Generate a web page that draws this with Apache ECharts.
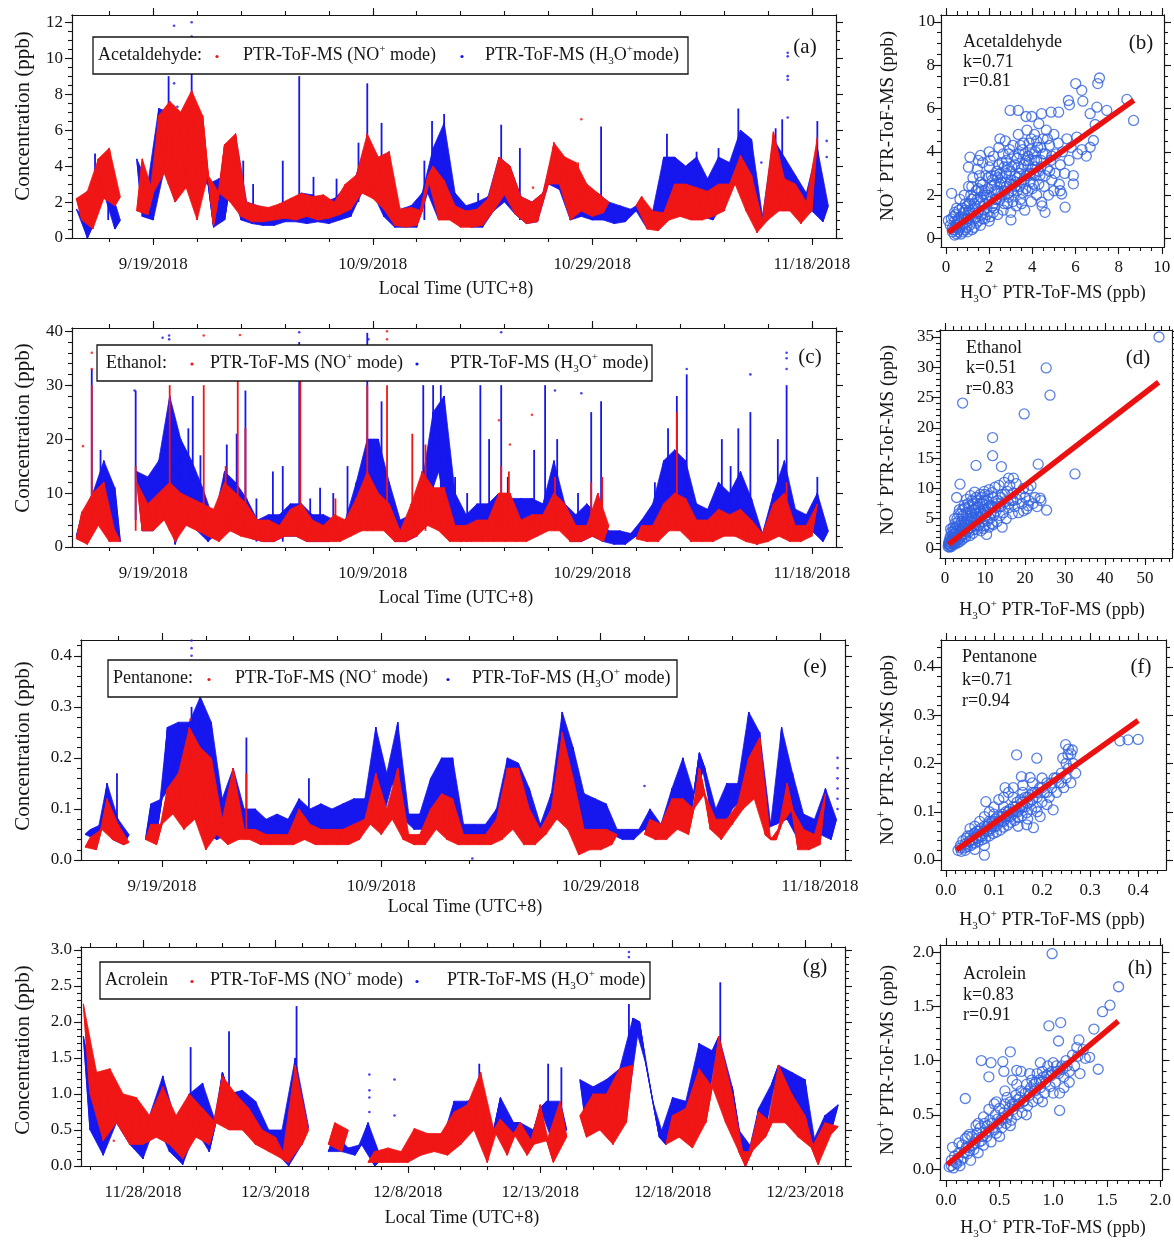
<!DOCTYPE html>
<html>
<head>
<meta charset="utf-8">
<title>Acetaldehyde, ethanol, pentanone and acrolein: NO+ vs H3O+ mode</title>
<script src="https://cdn.jsdelivr.net/npm/echarts@6.0.0/dist/echarts.min.js"></script>
<style>
html, body { margin: 0; padding: 0; background: #ffffff; }
#chart { width: 1174px; height: 1240px; }
</style>
</head>
<body>
<div id="chart"></div>
<script>
// ---------- time sampling (days relative to the first labelled date) ----------
const autumnStartDay = -7.0;   // 9/12/2018 00:00, counted from 9/19/2018
const autumnStepDay = 0.5;     // one value every 12 h
const winterStartDay = -2.25;  // 11/25/2018 18:00, counted from 11/28/2018
const winterStepDay = 0.25;    // one value every 6 h

const autumnTickDays = [0, 20, 40, 60];
const autumnTickLabels = ['9/19/2018', '10/9/2018', '10/29/2018', '11/18/2018'];
const winterTickDays = [0, 5, 10, 15, 20, 25];
const winterTickLabels = ['11/28/2018', '12/3/2018', '12/8/2018', '12/13/2018', '12/18/2018', '12/23/2018'];

const acetYTicks = [0, 2, 4, 6, 8, 10, 12];
const ethYTicks = [0, 10, 20, 30, 40];
const pentYTicks = [0, 0.1, 0.2, 0.3, 0.4];
const acroYTicks = [0, 0.5, 1.0, 1.5, 2.0, 2.5, 3.0];
const acetPairTicks = [0, 2, 4, 6, 8, 10];
const ethPairXTicks = [0, 10, 20, 30, 40, 50];
const ethPairYTicks = [0, 5, 10, 15, 20, 25, 30, 35];
const pentPairTicks = [0, 0.1, 0.2, 0.3, 0.4];
const acroPairTicks = [0, 0.5, 1.0, 1.5, 2.0];

// Each compound: the dense 12-h (or 6-h) record, short bursts as
// [day, from ppb, to ppb], and isolated readings as [day, ppb].

// ---------- acetaldehyde ----------
const acetNO = [
  2.2, 1.0, 2.6, 0.5, 4.4, 2.2, 5.0, 1.8, 2.3, null,
  null, 1.5, 4.4, 1.3, 2.5, 6.8, 3.6, 7.6, 2.0, 7.0,
  2.8, 8.2, 1.0, 6.8, 3.5, 0.7, 2.5, 5.2, 2.0, 5.8,
  1.2, 2.0, 0.9, 1.8, 0.9, 1.7, 1.0, 1.9, 1.1, 2.2,
  1.0, 2.5, 1.2, 2.3, 1.0, 2.4, 1.1, 2.0, 1.3, 3.0,
  1.6, 3.5, 2.5, 5.8, 2.2, 4.5, 1.6, 4.8, 0.7, 1.6,
  0.6, 1.7, 0.7, 1.5, 3.4, 4.0, 1.0, 3.2, 1.0, 1.8,
  0.6, 1.5, 0.6, 1.6, 0.7, 2.2, 1.5, 4.5, 2.4, 4.0,
  1.3, 2.3, 0.8, 2.0, 0.9, 2.5, 3.0, 5.3, 3.0, 4.5,
  1.0, 4.2, 1.5, 3.0, 1.2, 2.5, 1.4, 2.0, null, null,
  null, null, 1.8, 2.3, 0.5, 1.5, 0.4, 1.4, 1.0, 3.0,
  1.2, 3.0, 1.0, 2.8, 1.0, 2.6, 1.2, 3.0, 1.5, 3.0,
  3.0, 4.6, 1.5, 3.5, 0.3, 1.0, 1.0, 5.9, 1.5, 3.3,
  1.5, 3.0, 0.8, 2.0, 1.5, 5.6, null, null
];
const acetH3O = [
  1.6, 1.2, 0.0, 0.7, 3.5, 2.5, 3.0, 0.5, 1.0, null,
  null, 4.4, 1.2, 3.0, 1.0, 7.2, 3.8, 7.0, 2.0, 5.0,
  3.0, 8.0, 3.0, 6.3, 3.0, 0.6, 3.3, 1.0, 3.0, 5.7,
  1.0, 2.0, 0.8, 1.8, 0.7, 1.6, 0.7, 1.8, 0.9, 2.0,
  0.9, 2.5, 0.8, 2.4, 0.9, 2.0, 0.8, 2.2, 1.0, 2.8,
  1.2, 3.5, 2.5, 5.5, 2.5, 4.5, 1.2, 2.5, 0.6, 1.6,
  0.6, 1.8, 0.6, 2.5, 2.5, 5.0, 1.0, 6.4, 1.2, 2.5,
  0.8, 1.8, 0.6, 2.0, 0.6, 2.3, 1.5, 4.5, 2.0, 4.0,
  1.3, 2.3, 0.8, 2.0, 0.9, 2.5, 3.0, 5.0, 2.7, 4.0,
  1.0, 2.5, 1.2, 2.5, 1.0, 2.5, 1.0, 2.0, 0.8, 1.8,
  0.9, 1.6, 1.5, 2.0, 0.5, 1.5, 0.5, 4.5, 2.0, 4.5,
  1.5, 4.0, 1.5, 4.5, 1.2, 3.3, 1.0, 4.5, 2.0, 4.2,
  3.0, 6.0, 2.5, 5.5, 0.5, 1.2, 1.5, 5.5, 2.0, 4.5,
  2.0, 3.5, 1.0, 2.5, 1.5, 5.0, 0.9, 1.8
];
const acetBurstsNO = [[38.7, 2.0, 4.2], [-5.0, 2.5, 4.4]];
const acetBurstsH3O = [
  [-5.3, 2.5, 4.7], [-4.1, 1.0, 4.7], [1.4, 3.0, 9.0], [3.5, 4.0, 9.5], [8.2, 1.0, 4.3], [9.1, 1.0, 3.0],
  [11.8, 1.0, 4.3], [13.3, 1.0, 9.0], [14.6, 1.0, 3.4], [16.7, 1.0, 3.3], [18.7, 2.0, 5.3], [19.5, 3.0, 8.6],
  [20.8, 2.0, 6.4], [24.7, 1.0, 4.3], [25.4, 3.0, 6.5], [26.5, 3.0, 6.9], [29.6, 1.0, 2.5], [31.7, 2.0, 6.3],
  [33.4, 1.0, 5.0], [40.8, 1.0, 6.2], [46.8, 2.0, 5.8], [49.5, 2.0, 4.8], [51.5, 2.0, 5.0], [53.3, 3.0, 7.2],
  [56.7, 2.0, 6.1], [57.3, 2.0, 6.6], [60.5, 2.0, 6.5]
];
const acetSpotsNO = [[39.0, 6.6], [34.6, 2.8]];
const acetSpotsH3O = [
  [1.9, 11.8], [3.5, 12.0], [3.5, 11.2], [3.5, 10.5], [1.9, 8.6], [1.9, 7.3], [2.2, 7.3], [1.9, 6.3],
  [57.8, 10.3], [57.8, 10.1], [57.8, 9.0], [57.8, 8.8], [57.8, 6.7], [-4.1, 4.8],
  [61.35, 5.4], [61.35, 4.5], [55.4, 4.2], [54.3, 5.3]
];

// ---------- ethanol ----------
const ethNO = [
  1.5, 6.5, 0.5, 10, 4, 12, 1.0, 3.0, 1.0, null,
  null, 12, 3, 8, 3, 10, 5, 12, 1, 10,
  4, 9, 3, 8, 2, 7, 1, 12, 3, 10,
  2, 8, 1.5, 5, 1, 5, 1, 4, 2, 7,
  2, 8, 1, 5, 1, 4, 1, 6, 1, 5,
  2, 9, 3, 14, 3, 10, 3, 8, 1, 3,
  1, 8, 2, 14, 4, 11, 3, 11, 1, 4,
  1, 4, 1, 5, 1, 5, 1, 10, 1, 10,
  1, 5, 1, 6, 2, 6, 3, 10, 3, 8,
  1, 4, 1, 4, 2, 10, 1, 4, null, null,
  null, null, 1.5, 4, 1, 4, 1, 8, 3, 10,
  3, 9, 1, 5, 1, 5, 1, 7, 2, 6,
  2, 7, 1, 5, 0.5, 2.5, 1, 8, 2, 10,
  1, 4, 1, 4, 2, 8, null, null
];
const ethH3O = [
  2, 6, 2, 10, 5, 16, 2, 11, 1, null,
  null, 14, 3, 13, 3, 16, 10, 28, 0.5, 20,
  6, 16, 3, 11, 1, 5, 3, 14, 3, 12,
  3, 9, 1.5, 5, 1, 6, 1, 6, 2, 8,
  2, 8, 1, 6, 1, 6, 1, 5, 2, 5,
  3, 12, 5, 20, 5, 20, 6, 12, 1, 5,
  1, 6, 2, 12, 8, 25, 14, 28, 3, 10,
  1, 6, 2, 8, 2, 8, 2, 10, 2, 9,
  3, 9, 3, 9, 3, 8, 5, 16, 5, 8,
  1, 6, 1, 8, 2, 6, 1, 3, 0.5, 3,
  0.5, 2.5, 2, 5, 2, 8, 3, 16, 5, 18,
  5, 16, 2, 8, 2, 7, 2, 12, 3, 10,
  5, 14, 3, 9, 0.5, 2.5, 3, 10, 5, 16,
  2, 7, 2, 6, 3, 10, 1, 3
];
const ethBurstsNO = [
  [-5.6, 4, 30], [-1.6, 3, 15], [1.5, 3, 30], [4.6, 3, 30], [6.6, 3, 15], [7.7, 3, 32], [8.4, 2, 22],
  [13.4, 2, 32], [16.6, 1, 9], [19.5, 3, 30], [21.3, 3, 30], [23.6, 2, 21], [24.8, 3, 19], [31.7, 2, 15],
  [32.4, 2, 14], [36.6, 3, 13], [39.9, 2, 12], [40.9, 1, 13], [47.7, 3, 25], [57.7, 3, 12]
];
const ethBurstsH3O = [
  [-5.6, 5, 33], [-4.8, 5, 18], [-1.6, 5, 29], [3.2, 5, 22], [3.6, 5, 28], [4.3, 3, 17], [6.7, 3, 19],
  [7.6, 3, 21], [8.4, 3, 29], [9.4, 1, 9], [10.9, 1, 14], [11.8, 1, 15], [13.3, 2, 38], [14.3, 1, 9],
  [15.2, 1, 11], [16.4, 1, 10], [17.7, 2, 15], [19.5, 5, 39.7], [20.8, 5, 27], [24.6, 5, 30], [25.5, 10, 30],
  [26.2, 10, 30], [27.5, 2, 13], [28.6, 1, 10], [29.8, 2, 30], [30.6, 2, 20], [31.7, 2, 30], [32.3, 2, 13],
  [34.7, 3, 18], [35.7, 3, 30], [36.8, 5, 20], [38.7, 1, 10], [39.9, 2, 25], [40.8, 2, 27], [45.7, 2, 12],
  [46.9, 3, 22], [47.7, 5, 28], [48.6, 5, 32], [51.8, 3, 20], [52.6, 3, 15], [53.3, 5, 22], [54.4, 3, 25],
  [56.9, 3, 20], [57.7, 5, 30], [60.5, 3, 13]
];
const ethSpotsNO = [
  [-6.4, 18.7], [-5.6, 33], [-5.6, 36], [4.6, 39.2], [7.9, 39.3], [21.3, 38.5], [21.3, 40],
  [31.5, 23.5], [32.5, 19], [34.5, 24.5]
];
const ethSpotsH3O = [
  [0.85, 38.8], [1.45, 39.2], [1.45, 38.5], [13.3, 39.8], [19.6, 38.5], [31.7, 39.8], [57.7, 33],
  [57.7, 35], [57.7, 36], [54.4, 32], [48.6, 33], [36.6, 29], [39.0, 28.5], [-1.7, 29]
];

// ---------- pentanone ----------
const pentNO = [
  0.025, 0.045, 0.02, 0.06, 0.12, 0.04, 0.07, 0.03, 0.035, null,
  null, 0.04, 0.07, 0.03, 0.07, 0.14, 0.09, 0.17, 0.06, 0.26,
  0.08, 0.22, 0.02, 0.2, 0.05, 0.08, 0.03, 0.18, 0.04, 0.06,
  0.04, 0.06, 0.03, 0.05, 0.03, 0.05, 0.03, 0.05, 0.03, 0.1,
  0.04, 0.07, 0.03, 0.06, 0.03, 0.06, 0.03, 0.06, 0.03, 0.07,
  0.04, 0.08, 0.07, 0.17, 0.05, 0.1, 0.08, 0.18, 0.04, 0.05,
  0.03, 0.05, 0.03, 0.1, 0.06, 0.13, 0.04, 0.12, 0.03, 0.05,
  0.03, 0.05, 0.03, 0.05, 0.03, 0.08, 0.04, 0.18, 0.06, 0.18,
  0.03, 0.1, 0.03, 0.06, 0.05, 0.1, 0.08, 0.25, 0.06, 0.16,
  0.01, 0.06, 0.02, 0.06, 0.02, 0.06, 0.03, 0.05, null, null,
  null, null, 0.05, 0.08, 0.04, 0.07, 0.04, 0.12, 0.06, 0.12,
  0.05, 0.1, 0.18, 0.13, 0.06, 0.08, 0.04, 0.08, 0.07, 0.11,
  0.1, 0.2, 0.12, 0.24, 0.05, 0.04, 0.04, 0.07, 0.15, 0.1,
  0.02, 0.06, 0.02, 0.05, 0.03, 0.13, null, null
];
const pentH3O = [
  0.05, 0.06, 0.04, 0.07, 0.15, 0.04, 0.08, 0.03, 0.05, null,
  null, 0.04, 0.11, 0.05, 0.12, 0.26, 0.15, 0.27, 0.1, 0.27,
  0.15, 0.32, 0.05, 0.27, 0.04, 0.12, 0.05, 0.18, 0.05, 0.1,
  0.05, 0.1, 0.05, 0.08, 0.04, 0.09, 0.04, 0.08, 0.05, 0.12,
  0.05, 0.1, 0.05, 0.11, 0.05, 0.1, 0.05, 0.11, 0.05, 0.12,
  0.06, 0.12, 0.1, 0.26, 0.07, 0.17, 0.15, 0.27, 0.08, 0.09,
  0.06, 0.09, 0.06, 0.16, 0.1, 0.2, 0.06, 0.2, 0.05, 0.07,
  0.04, 0.07, 0.04, 0.07, 0.04, 0.1, 0.05, 0.2, 0.08, 0.19,
  0.05, 0.14, 0.04, 0.07, 0.08, 0.13, 0.12, 0.29, 0.08, 0.22,
  0.04, 0.13, 0.05, 0.12, 0.05, 0.11, 0.05, 0.06, 0.04, 0.06,
  0.04, 0.06, 0.06, 0.1, 0.04, 0.07, 0.05, 0.14, 0.08, 0.2,
  0.06, 0.13, 0.21, 0.18, 0.1, 0.1, 0.05, 0.15, 0.1, 0.15,
  0.12, 0.29, 0.15, 0.25, 0.06, 0.07, 0.07, 0.26, 0.08, 0.17,
  0.04, 0.09, 0.04, 0.08, 0.05, 0.14, 0.04, 0.08
];
const pentBurstsNO = [[7.7, 0.04, 0.17]];
const pentBurstsH3O = [[-4.1, 0.04, 0.17], [7.7, 0.05, 0.24], [13.4, 0.05, 0.16], [2.7, 0.2, 0.3]];
const pentSpotsNO = [[2.6, 0.275]];
const pentSpotsH3O = [
  [2.7, 0.43], [2.7, 0.415], [2.7, 0.40], [2.7, 0.39], [44.0, 0.145], [28.3, 0.003],
  [61.6, 0.2], [61.6, 0.18], [61.6, 0.16], [61.6, 0.14], [61.6, 0.12], [61.6, 0.1]
];

// ---------- acrolein ----------
const acroNO = [
  2.25, 1.0, 1.3, 0.35, 1.35, 0.6, 1.0, 0.3,
  0.95, 0.3, 0.7, 0.4, 1.1, 0.3, 0.7, 0.1,
  1.0, 0.4, 0.8, 0.3, 0.6, 1.25, 0.5, 1.0,
  0.5, 0.8, 0.3, 0.5, 0.2, 0.4, 0.1, 0.05,
  1.4, 0.3, 0.5, null, null, 0.3, 0.6, 0.2,
  0.5, null, null, 0.05, 0.2, 0.05, 0.25, 0.05,
  0.2, 0.05, 0.52, 0.15, 0.45, 0.2, 0.45, 0.15,
  0.75, 0.3, 0.85, 0.5, 1.3, 0.05, 0.5, 0.65,
  0.15, 0.45, 0.6, 0.15, 0.3, 0.85, 0.35, 0.05,
  0.9, 0.4, null, 0.7, 0.4, 1.0, 0.5, 1.0,
  0.3, 1.35, 0.6, 1.4, null, null, null, null,
  0.3, 0.7, 0.4, 0.8, 0.25, 1.35, 0.6, 1.1,
  1.8, 0.6, 1.0, 0.2, 0.0, 0.2, 0.75, 0.4,
  0.6, 1.4, 0.6, 1.0, 0.4, 0.7, 0.25, 0.02,
  0.6, 0.45, 0.55
];
const acroH3O = [
  1.8, 0.5, 1.0, 0.15, 0.8, 0.6, 0.9, 0.3,
  0.7, 0.1, 0.7, 0.6, 1.25, 0.2, 0.6, 0.02,
  1.0, 0.5, 1.15, 0.2, 0.6, 1.3, 1.0, 0.6,
  1.05, 0.5, 0.9, 0.3, 0.5, 0.2, 0.5, 0.0,
  1.5, 0.3, 0.55, null, null, 0.2, 0.45, 0.2,
  0.25, 0.15, 0.3, 0.6, 0.0, 0.1, null, null,
  null, null, null, 0.45, 0.3, 0.3, 0.3, 0.2,
  0.9, 0.4, 0.9, 0.6, 1.0, 0.1, 0.5, 0.95,
  0.2, 0.6, 0.6, 0.2, 0.5, 0.8, 0.9, 0.3,
  0.9, 0.5, null, 1.2, 0.5, 1.1, 0.5, 1.2,
  0.5, 1.35, 0.7, 2.05, 2.0, 1.4, 0.9, 0.4,
  0.3, 0.95, 0.5, 0.9, 0.3, 1.7, 0.7, 1.6,
  1.8, 0.7, 1.1, 0.5, 0.0, 0.25, 0.8, 0.5,
  1.15, 1.4, 0.6, 1.3, 0.5, 1.2, 0.3, 0.05,
  0.7, 0.5, 0.85
];
const acroBurstsNO = [];
const acroBurstsH3O = [
  [1.8, 0.8, 1.65], [3.25, 0.8, 1.87], [5.8, 1.2, 2.22], [12.7, 0.8, 1.42], [15.3, 0.6, 1.42],
  [15.8, 0.6, 1.37], [18.35, 1.5, 2.25], [21.8, 1.5, 2.55]
];
const acroSpotsNO = [[-1.1, 0.35]];
const acroSpotsH3O = [
  [8.55, 1.27], [8.55, 1.05], [8.55, 0.95], [8.55, 0.75], [9.5, 1.2], [9.5, 0.7], [18.35, 2.97], [18.35, 2.9]
];

// ---------- NO+ vs H3O+ pairs: [H3O+ ppb, NO+ ppb] ----------
const acetPairs = [
  [8.69, 5.45], [8.38, 6.42], [7.11, 7.41], [7.03, 7.15], [6.01, 7.15], [6.29, 6.84], [6.34, 6.34], [5.67, 6.37],
  [5.72, 6.17], [6.99, 6.06], [7.45, 5.91], [6.68, 5.76], [6.91, 5.26], [6.83, 4.52], [6.68, 4.21], [6.06, 4.68],
  [5.9, 2.52], [5.52, 1.44], [5.29, 2.2], [5.36, 2.05], [4.59, 1.2], [4.43, 1.67], [2.97, 5.91], [3.35, 5.91],
  [3.71, 5.63], [3.97, 5.63], [4.43, 5.76], [4.87, 5.83], [5.22, 5.83], [3.01, 0.85], [0.11, 0.82], [0.26, 2.08],
  [1.11, 3.75], [1.6, 3.83], [1.04, 3.29],
  [0.2, 0.6], [0.3, 0.3], [0.35, 1.0], [0.4, 0.15], [0.45, 0.6], [0.5, 1.4], [0.55, 0.3], [0.6, 0.9],
  [0.65, 1.8], [0.7, 0.2], [0.75, 0.6], [0.8, 1.2], [0.85, 2.0], [0.9, 0.4], [0.95, 0.9], [1.0, 1.5],
  [1.05, 2.4], [1.1, 0.6], [1.15, 1.1], [1.2, 1.8], [1.25, 2.8], [1.3, 0.5], [1.35, 1.4], [1.4, 2.2],
  [1.45, 3.2], [1.5, 0.8], [1.55, 1.7], [1.6, 2.6], [1.65, 1.1], [1.7, 3.5], [1.75, 2.0], [1.8, 0.9],
  [1.85, 2.9], [1.9, 1.4], [1.95, 2.3], [2.0, 3.3], [2.05, 1.0], [2.1, 1.9], [2.15, 2.7], [2.2, 3.8],
  [2.25, 1.4], [2.3, 2.2], [2.35, 3.1], [2.4, 1.1], [2.45, 4.2], [2.5, 1.8], [2.55, 2.6], [2.6, 3.5],
  [2.65, 1.3], [2.7, 2.2], [2.75, 4.5], [2.8, 3.0], [2.85, 1.6], [2.9, 3.9], [2.95, 2.5], [3.0, 1.2],
  [3.05, 3.3], [3.1, 4.3], [3.15, 2.0], [3.2, 2.9], [3.25, 1.5], [3.3, 3.7], [3.35, 4.8], [3.4, 2.4],
  [3.45, 1.8], [3.5, 3.2], [3.55, 4.1], [3.6, 2.7], [3.65, 1.3], [3.7, 3.6], [3.75, 5.0], [3.8, 2.2],
  [3.85, 4.4], [3.9, 3.0], [3.95, 1.7], [4.0, 3.9], [4.05, 2.5], [4.1, 4.8], [4.15, 3.3], [4.2, 2.0],
  [4.25, 4.2], [4.3, 5.3], [4.35, 2.9], [4.4, 3.6], [4.45, 1.5], [4.5, 4.6], [4.55, 2.4], [4.6, 3.9],
  [4.65, 5.0], [4.7, 3.2], [4.75, 2.0], [4.8, 4.3], [4.85, 3.6], [4.9, 2.7], [5.0, 4.8], [5.05, 3.0],
  [5.1, 3.9], [5.2, 4.4], [5.25, 2.5], [5.3, 3.4], [5.4, 4.0], [5.5, 3.0], [5.6, 4.6], [5.7, 3.6],
  [5.8, 4.2], [5.9, 2.9], [6.1, 3.9], [6.3, 4.1], [6.5, 3.8], [0.25, 0.9], [0.5, 0.5], [0.8, 0.3],
  [1.0, 0.9], [1.2, 0.4], [1.4, 1.0], [1.6, 0.6], [1.8, 1.6], [2.0, 0.8], [2.2, 1.6], [2.4, 2.8],
  [2.6, 2.0], [2.8, 2.4], [3.0, 2.7], [3.2, 3.4], [3.4, 3.0], [3.6, 3.4], [3.8, 3.8], [4.0, 3.2],
  [4.2, 3.6], [4.4, 4.2], [0.6, 0.7], [0.9, 1.3], [1.1, 1.6], [1.3, 1.9], [1.5, 2.3], [1.7, 2.5],
  [1.9, 2.0], [2.1, 2.4], [2.3, 2.9], [2.5, 3.0], [2.7, 3.3], [2.9, 2.1], [3.1, 2.5], [3.3, 2.2],
  [3.5, 2.6], [3.7, 2.3], [3.9, 2.6], [4.1, 2.9], [4.3, 3.1],
  [0.3, 0.5], [0.4, 0.8], [0.5, 0.2], [0.6, 0.4], [0.7, 1.0], [0.8, 0.7], [0.9, 1.6], [1.0, 0.3],
  [1.1, 1.3], [1.2, 1.0], [1.3, 1.6], [1.4, 0.7], [1.5, 1.2], [1.6, 1.9], [1.7, 0.9], [1.8, 2.2],
  [1.9, 1.1], [2.0, 1.7], [2.1, 2.9], [2.2, 1.2], [2.3, 1.8], [2.4, 2.2], [2.5, 2.5], [2.6, 2.8],
  [2.7, 1.6], [2.8, 3.6], [2.9, 1.9], [3.0, 3.1], [3.1, 1.7], [3.2, 2.4], [3.3, 2.8], [3.4, 3.9],
  [3.5, 1.6], [3.6, 4.4], [3.7, 2.9], [3.8, 3.4], [3.9, 4.1], [4.0, 2.3], [4.1, 3.6], [4.2, 4.5],
  [4.3, 2.5], [4.4, 3.3], [4.5, 3.9], [4.6, 2.9], [4.7, 4.6], [4.8, 3.1], [4.9, 3.8], [5.0, 2.2],
  [1.5, 3.6], [2.0, 4.0], [2.5, 4.6], [1.2, 2.4], [0.6, 1.3], [0.4, 1.2],
  [0.35, 0.4], [0.45, 1.1], [0.55, 0.8], [0.65, 0.5], [0.75, 1.4], [0.85, 0.9], [0.95, 0.5], [1.05, 1.2],
  [1.15, 2.0], [1.25, 1.3], [1.35, 0.9], [1.45, 1.8], [1.55, 2.9], [1.65, 2.2], [1.75, 1.3], [1.85, 1.9],
  [1.95, 2.8], [2.05, 3.6], [2.15, 1.5], [2.25, 2.5], [2.35, 1.8], [2.45, 3.4], [2.55, 2.1], [2.65, 3.9],
  [2.75, 2.6], [2.85, 3.3], [2.95, 4.1], [3.05, 2.2], [3.15, 3.8], [3.25, 2.6], [3.35, 3.3], [3.45, 4.3],
  [3.55, 2.1], [3.65, 3.9], [3.75, 2.9], [3.85, 3.6], [3.95, 4.6], [4.05, 3.0], [4.15, 4.0]
];
const ethPairs = [
  [53.5, 35.0], [32.5, 12.4], [25.3, 29.9], [26.25, 25.4], [4.4, 24.1], [19.8, 22.3], [11.9, 18.4], [11.9, 15.4],
  [7.75, 13.8], [14.1, 13.6], [23.3, 14.0], [3.75, 10.7], [2.9, 8.5], [25.4, 6.4], [23.75, 8.4], [20.8, 9.9],
  [20.8, 7.15], [19.6, 6.3], [14.3, 3.6], [10.4, 2.4], [17.1, 11.7], [15.9, 11.7],
  [0.8, 0.4], [1.0, 1.2], [1.2, 0.6], [1.3, 2.0], [1.5, 1.0], [1.6, 2.8], [1.8, 0.8], [1.9, 1.6],
  [2.0, 3.5], [2.2, 1.2], [2.3, 2.4], [2.5, 4.2], [2.6, 1.0], [2.8, 1.8], [2.9, 3.0], [3.0, 5.0],
  [3.2, 1.5], [3.3, 2.5], [3.5, 3.8], [3.6, 6.5], [3.8, 1.8], [4.0, 3.0], [4.1, 4.5], [4.3, 2.2],
  [4.5, 5.5], [4.6, 3.5], [4.8, 7.2], [5.0, 2.5], [5.1, 4.2], [5.3, 6.0], [5.5, 3.0], [5.6, 5.0],
  [5.8, 7.5], [6.0, 2.8], [6.1, 4.0], [6.3, 6.2], [6.5, 3.5], [6.6, 5.2], [6.8, 8.0], [7.0, 2.6],
  [7.1, 4.4], [7.3, 6.5], [7.5, 3.8], [7.6, 5.8], [7.8, 8.5], [8.0, 3.2], [8.1, 4.8], [8.3, 7.0],
  [8.5, 4.0], [8.6, 6.0], [8.8, 9.0], [9.0, 3.0], [9.1, 5.2], [9.3, 7.5], [9.5, 4.5], [9.6, 6.5],
  [9.8, 9.5], [10.0, 3.8], [10.2, 5.5], [10.4, 8.0], [10.6, 4.6], [10.8, 6.8], [11.0, 9.8], [11.2, 5.0],
  [11.5, 7.2], [11.7, 4.2], [12.0, 8.5], [12.2, 5.6], [12.5, 10.2], [12.8, 6.3], [13.0, 4.5], [13.2, 8.0],
  [13.5, 10.5], [13.8, 5.5], [14.0, 7.0], [14.3, 9.0], [14.6, 6.0], [14.8, 11.0], [15.0, 7.8], [15.3, 5.0],
  [15.6, 9.5], [15.9, 6.8], [16.2, 10.5], [16.5, 8.0], [16.8, 5.8], [17.0, 9.2], [17.4, 7.0], [17.8, 10.8],
  [18.0, 8.2], [18.4, 6.0], [18.8, 9.0], [19.2, 7.5], [19.6, 10.0], [20.0, 8.5], [20.4, 6.6], [21.0, 8.0],
  [21.5, 10.5], [22.0, 7.5], [22.5, 8.5], [23.0, 7.0], [24.0, 8.0], [1.1, 0.3], [2.1, 0.9], [3.1, 1.0],
  [4.2, 1.5], [5.2, 2.0], [6.2, 2.2], [1.4, 3.3], [2.4, 5.0], [3.4, 5.8], [4.4, 6.5], [5.4, 8.2],
  [6.4, 8.8], [7.4, 9.4], [1.7, 1.5], [2.7, 2.5], [3.7, 3.2], [4.7, 4.0], [5.7, 4.6], [6.7, 5.8],
  [7.7, 6.8], [8.7, 7.5], [9.7, 8.0], [10.7, 8.8], [11.7, 9.3],
  [1.0, 0.8], [1.5, 1.5], [2.0, 2.0], [2.5, 2.0], [3.0, 2.0], [3.5, 2.4], [4.0, 2.2], [4.5, 3.0],
  [5.0, 3.5], [5.5, 4.0], [6.0, 5.0], [6.5, 4.5], [7.0, 5.2], [7.5, 5.0], [8.0, 5.8], [8.5, 5.2],
  [9.0, 6.2], [9.5, 5.8], [10.0, 6.5], [10.5, 6.0], [11.0, 7.0], [11.5, 6.0], [12.0, 7.0], [12.5, 6.8],
  [13.0, 7.5], [13.5, 7.0], [14.0, 8.5], [15.0, 9.0], [16.0, 7.5], [17.0, 8.0], [2.0, 1.3], [3.0, 3.8],
  [4.0, 5.8], [5.0, 6.8], [6.0, 7.0], [7.0, 7.5], [8.0, 8.0], [9.0, 8.5], [10.0, 9.0], [1.2, 1.6],
  [1.8, 2.4], [2.2, 3.0], [2.6, 3.4], [3.4, 4.6], [0.9, 0.9], [1.3, 0.5], [1.6, 0.4], [2.4, 0.8],
  [3.6, 1.2], [4.8, 1.8], [6.0, 3.4], [7.2, 3.2], [8.4, 3.8], [9.6, 3.4], [11.0, 3.6], [12.0, 4.0]
];
const pentPairs = [
  [0.4, 0.25], [0.379, 0.249], [0.362, 0.247], [0.147, 0.218], [0.189, 0.211], [0.249, 0.239], [0.263, 0.228],
  [0.254, 0.218], [0.243, 0.211], [0.083, 0.121], [0.09, 0.08], [0.08, 0.01], [0.182, 0.067], [0.223, 0.104],
  [0.196, 0.09], [0.168, 0.073], [0.123, 0.15], [0.157, 0.173], [0.175, 0.171],
  [0.025, 0.02], [0.03, 0.03], [0.032, 0.018], [0.035, 0.04], [0.038, 0.025], [0.04, 0.033], [0.042, 0.045],
  [0.045, 0.028], [0.048, 0.038], [0.05, 0.05], [0.052, 0.03], [0.055, 0.042], [0.058, 0.055], [0.06, 0.035],
  [0.062, 0.047], [0.065, 0.06], [0.067, 0.038], [0.07, 0.05], [0.072, 0.065], [0.075, 0.042], [0.078, 0.055],
  [0.08, 0.07], [0.082, 0.045], [0.085, 0.06], [0.088, 0.075], [0.09, 0.05], [0.093, 0.065], [0.095, 0.08],
  [0.098, 0.055], [0.1, 0.07], [0.103, 0.085], [0.105, 0.058], [0.108, 0.075], [0.11, 0.09], [0.113, 0.062],
  [0.115, 0.08], [0.118, 0.095], [0.12, 0.068], [0.123, 0.085], [0.125, 0.1], [0.128, 0.072], [0.13, 0.09],
  [0.133, 0.105], [0.135, 0.078], [0.138, 0.095], [0.14, 0.11], [0.143, 0.082], [0.145, 0.1], [0.148, 0.12],
  [0.15, 0.088], [0.153, 0.105], [0.155, 0.125], [0.158, 0.092], [0.16, 0.11], [0.165, 0.13], [0.168, 0.098],
  [0.17, 0.118], [0.175, 0.135], [0.178, 0.105], [0.18, 0.125], [0.185, 0.14], [0.188, 0.11], [0.19, 0.13],
  [0.195, 0.15], [0.2, 0.12], [0.205, 0.14], [0.21, 0.16], [0.215, 0.13], [0.22, 0.15], [0.225, 0.17],
  [0.23, 0.14], [0.235, 0.16], [0.24, 0.18], [0.245, 0.15], [0.25, 0.17], [0.255, 0.19], [0.26, 0.16],
  [0.265, 0.2], [0.27, 0.18], [0.06, 0.07], [0.08, 0.09], [0.1, 0.11], [0.12, 0.13], [0.14, 0.15],
  [0.16, 0.155], [0.09, 0.1], [0.11, 0.125], [0.13, 0.14], [0.05, 0.065], [0.07, 0.08], [0.15, 0.07],
  [0.17, 0.085], [0.19, 0.1], [0.21, 0.115], [0.06, 0.022], [0.08, 0.03],
  [0.03, 0.025], [0.04, 0.02], [0.045, 0.05], [0.05, 0.04], [0.055, 0.035], [0.06, 0.055], [0.065, 0.045],
  [0.07, 0.06], [0.075, 0.05], [0.08, 0.06], [0.085, 0.07], [0.09, 0.06], [0.095, 0.07], [0.1, 0.08],
  [0.105, 0.07], [0.11, 0.08], [0.115, 0.09], [0.12, 0.08], [0.125, 0.09], [0.13, 0.1], [0.135, 0.09],
  [0.14, 0.1], [0.145, 0.11], [0.15, 0.1], [0.155, 0.11], [0.16, 0.12], [0.165, 0.11], [0.17, 0.13],
  [0.175, 0.12], [0.18, 0.14], [0.19, 0.14], [0.2, 0.15], [0.21, 0.14], [0.22, 0.16], [0.23, 0.17],
  [0.24, 0.16], [0.25, 0.2], [0.26, 0.22], [0.255, 0.23], [0.12, 0.11], [0.1, 0.095], [0.14, 0.13],
  [0.16, 0.14], [0.18, 0.16], [0.2, 0.17]
];
const acroPairs = [
  [0.99, 1.985], [1.61, 1.68], [1.53, 1.51], [1.46, 1.45], [1.38, 1.29], [0.96, 1.32], [1.07, 1.35], [1.05, 1.18],
  [1.42, 0.92], [1.34, 1.03], [0.6, 1.08], [0.33, 1.0], [0.42, 0.98], [0.53, 0.99], [0.4, 0.85], [0.54, 0.9],
  [0.18, 0.65], [1.06, 0.54], [0.66, 0.91], [1.23, 1.04], [1.24, 1.19],
  [0.03, 0.02], [0.05, 0.08], [0.07, 0.01], [0.08, 0.12], [0.1, 0.05], [0.12, 0.15], [0.13, 0.03], [0.15, 0.22],
  [0.16, 0.1], [0.18, 0.28], [0.2, 0.14], [0.21, 0.2], [0.23, 0.08], [0.24, 0.3], [0.26, 0.18], [0.27, 0.24],
  [0.29, 0.33], [0.3, 0.15], [0.32, 0.38], [0.33, 0.26], [0.35, 0.22], [0.36, 0.42], [0.38, 0.3], [0.4, 0.35],
  [0.41, 0.45], [0.42, 0.25], [0.44, 0.38], [0.46, 0.5], [0.47, 0.33], [0.49, 0.42], [0.5, 0.56], [0.52, 0.38],
  [0.53, 0.47], [0.55, 0.6], [0.56, 0.42], [0.58, 0.5], [0.6, 0.62], [0.61, 0.45], [0.63, 0.55], [0.65, 0.68],
  [0.66, 0.5], [0.68, 0.6], [0.7, 0.72], [0.71, 0.52], [0.73, 0.63], [0.75, 0.78], [0.76, 0.58], [0.78, 0.68],
  [0.8, 0.82], [0.81, 0.62], [0.83, 0.72], [0.85, 0.88], [0.86, 0.65], [0.88, 0.75], [0.9, 0.9], [0.92, 0.7],
  [0.93, 0.8], [0.95, 0.95], [0.97, 0.76], [0.98, 0.86], [1.0, 0.98], [1.02, 0.8], [1.04, 0.9], [1.06, 0.7],
  [1.08, 0.95], [1.1, 0.85], [1.12, 1.0], [1.15, 0.9], [1.18, 1.05], [1.2, 0.95], [1.22, 1.12], [1.25, 0.88],
  [1.28, 1.1], [1.3, 1.02], [0.35, 0.48], [0.28, 0.4], [0.45, 0.6], [0.55, 0.72], [0.62, 0.82], [0.7, 0.9],
  [0.22, 0.32], [0.12, 0.24], [0.06, 0.2], [0.5, 0.3], [0.6, 0.4], [0.75, 0.5], [0.9, 0.62], [1.0, 0.7],
  [1.1, 0.75], [1.15, 0.8],
  [0.05, 0.03], [0.09, 0.06], [0.11, 0.1], [0.14, 0.08], [0.17, 0.15], [0.19, 0.2], [0.22, 0.17], [0.25, 0.22],
  [0.28, 0.28], [0.31, 0.25], [0.34, 0.3], [0.37, 0.34], [0.39, 0.4], [0.43, 0.42], [0.45, 0.36], [0.48, 0.46],
  [0.51, 0.45], [0.54, 0.52], [0.57, 0.47], [0.59, 0.56], [0.62, 0.6], [0.64, 0.58], [0.67, 0.64], [0.69, 0.66],
  [0.72, 0.62], [0.74, 0.7], [0.77, 0.72], [0.79, 0.75], [0.82, 0.78], [0.84, 0.8], [0.87, 0.82], [0.89, 0.8],
  [0.91, 0.85], [0.94, 0.86], [0.96, 0.88], [0.99, 0.9], [1.03, 0.95], [1.05, 0.88], [1.09, 0.92], [1.13, 0.95],
  [0.2, 0.3], [0.3, 0.42], [0.4, 0.55], [0.47, 0.62], [0.57, 0.66], [0.66, 0.78], [0.78, 0.88], [0.88, 0.98]
];

// linear fits: [slope k, intercept, first H3O+, last H3O+]
const acetFit = [0.71, 0.2, 0.1, 8.7];
const ethFit = [0.51, 0.3, 0.9, 53.4];
const pentFit = [0.71, 0.005, 0.022, 0.4];
const acroFit = [0.83, 0.03, 0.012, 1.607];

// ---------- drawing ----------
const FONT = '"Liberation Serif", "Times New Roman", Times, serif';
const INK = '#151515';
const RED = '#f01616';
const BLUE = '#1616ee';
const RING = '#3060e0';
const FIT = '#ec1111';

function steps(from, to, step) {
  const out = [];
  const n = Math.round((to - from) / step);
  for (let i = 0; i <= n; i++) out.push(+(from + i * step).toFixed(6));
  return out;
}
function sampled(start, step, values) {
  return values.map((v, i) => [+(start + i * step).toFixed(4), v === null ? '-' : v]);
}
// consecutive triples of readings; each triple is filled so the spread
// between neighbouring readings shows as a solid band
function triples(start, step, values) {
  const out = [];
  for (let i = 0; i + 2 < values.length; i++) {
    const a = values[i], b = values[i + 1], c = values[i + 2];
    if (a === null || b === null || c === null) continue;
    out.push([start + i * step, a, start + (i + 1) * step, b, start + (i + 2) * step, c]);
  }
  return out;
}
function dateFormatter(days, labels) {
  return function (v) {
    let best = 0;
    for (let i = 1; i < days.length; i++) if (Math.abs(days[i] - v) < Math.abs(days[best] - v)) best = i;
    return labels[best];
  };
}
function fixed(d) { return function (v) { return Number(v).toFixed(d); }; }

const grids = [], xAxis = [], yAxis = [], series = [], graphic = [];

function makeAxis(gridIndex, position, sc, ticks, len, labelled) {
  const inRange = ticks.filter(v => v >= sc.min - 1e-9 && v <= sc.max + 1e-9);
  return {
    type: 'value', gridIndex: gridIndex, position: position, min: sc.min, max: sc.max, silent: true,
    axisLine: { show: true, onZero: false, lineStyle: { color: INK, width: 1.1 } },
    axisTick: { show: true, inside: false, length: len, customValues: inRange, lineStyle: { color: INK, width: 1.1 } },
    axisLabel: labelled
      ? { show: true, customValues: sc.major, formatter: sc.format, margin: sc.margin, color: INK, fontFamily: FONT, fontSize: 17 }
      : { show: false },
    splitLine: { show: false }, splitArea: { show: false }, minorTick: { show: false }
  };
}
function addFrame(box, xs, ys) {
  const g = grids.length;
  grids.push(Object.assign({ show: false }, box));
  const xi = xAxis.length, yi = yAxis.length;
  xAxis.push(makeAxis(g, 'bottom', xs, xs.major, 7, true));
  xAxis.push(makeAxis(g, 'bottom', xs, xs.minor, 4, false));
  xAxis.push(makeAxis(g, 'top', xs, xs.major, 7, false));
  xAxis.push(makeAxis(g, 'top', xs, xs.minor, 4, false));
  yAxis.push(makeAxis(g, 'left', ys, ys.major, 7, true));
  yAxis.push(makeAxis(g, 'left', ys, ys.minor, 4, false));
  yAxis.push(makeAxis(g, 'right', ys, ys.major, 7, false));
  yAxis.push(makeAxis(g, 'right', ys, ys.minor, 4, false));
  return { xi: xi, yi: yi };
}

function richFor(size) {
  const small = Math.round(size * 0.62);
  return {
    sup: { fontSize: small, fontFamily: FONT, fill: INK, verticalAlign: 'top' },
    sub: { fontSize: small, fontFamily: FONT, fill: INK, verticalAlign: 'bottom' }
  };
}
function text(x, y, str, size, extra) {
  const el = {
    type: 'text', x: x, y: y, silent: true, z: 50,
    style: {
      text: str, fontFamily: FONT, fontSize: size, fill: INK,
      align: 'left', verticalAlign: 'middle', lineHeight: size + 5, rich: richFor(size)
    }
  };
  if (extra) {
    if (extra.align) el.style.align = extra.align;
    if (extra.rotation) el.rotation = extra.rotation;
  }
  graphic.push(el);
}
function legendBox(x0, y0, x1, y1, name, nameX, redX, redTextX, blueX, blueTextX, blueText) {
  const cy = (y0 + y1) / 2;
  graphic.push({ type: 'rect', silent: true, z: 40, shape: { x: x0, y: y0, width: x1 - x0, height: y1 - y0 },
    style: { fill: '#ffffff', stroke: INK, lineWidth: 1.3 } });
  text(nameX, cy, name, 18);
  graphic.push({ type: 'circle', silent: true, z: 50, shape: { cx: redX, cy: cy + 1, r: 1.6 }, style: { fill: RED } });
  text(redTextX, cy, 'PTR-ToF-MS (NO{sup|+} mode)', 18);
  graphic.push({ type: 'circle', silent: true, z: 50, shape: { cx: blueX, cy: cy + 1, r: 1.6 }, style: { fill: BLUE } });
  text(blueTextX, cy, blueText, 18);
}

function bandSeries(ax, start, step, values, color, z) {
  return {
    type: 'custom', xAxisIndex: ax.xi, yAxisIndex: ax.yi, silent: true, animation: false, z: z,
    data: triples(start, step, values),
    encode: { x: [0, 2, 4], y: [1, 3, 5] },
    renderItem: function (params, api) {
      const p0 = api.coord([api.value(0), api.value(1)]);
      const p1 = api.coord([api.value(2), api.value(3)]);
      const p2 = api.coord([api.value(4), api.value(5)]);
      return { type: 'polygon', shape: { points: [p0, p1, p2] },
        style: { fill: color, stroke: color, lineWidth: 0.8 } };
    }
  };
}
function burstSeries(ax, bursts, color, z) {
  return {
    type: 'custom', xAxisIndex: ax.xi, yAxisIndex: ax.yi, silent: true, animation: false, z: z,
    data: bursts,
    encode: { x: 0, y: [1, 2] },
    renderItem: function (params, api) {
      const a = api.coord([api.value(0), api.value(1)]);
      const b = api.coord([api.value(0), api.value(2)]);
      return { type: 'line', shape: { x1: a[0], y1: a[1], x2: b[0], y2: b[1] },
        style: { stroke: color, lineWidth: 1.8 } };
    }
  };
}
function timePanel(box, xs, ys, start, step, rec) {
  const ax = addFrame(box, xs, ys);
  const common = { xAxisIndex: ax.xi, yAxisIndex: ax.yi, silent: true, animation: false };
  series.push(bandSeries(ax, start, step, rec.h3o, BLUE, 1));
  series.push(Object.assign({ type: 'line', data: sampled(start, step, rec.h3o), symbol: 'none', connectNulls: false,
    lineStyle: { color: BLUE, width: 1.2 }, z: 2 }, common));
  series.push(burstSeries(ax, rec.burstsH3O, BLUE, 2));
  series.push(Object.assign({ type: 'scatter', data: rec.spotsH3O, symbol: 'circle', symbolSize: 2.6,
    itemStyle: { color: BLUE }, z: 2 }, common));
  series.push(bandSeries(ax, start, step, rec.no, RED, 3));
  series.push(Object.assign({ type: 'line', data: sampled(start, step, rec.no), symbol: 'none', connectNulls: false,
    lineStyle: { color: RED, width: 1.2 }, z: 4 }, common));
  series.push(burstSeries(ax, rec.burstsNO, RED, 4));
  series.push(Object.assign({ type: 'scatter', data: rec.spotsNO, symbol: 'circle', symbolSize: 2.6,
    itemStyle: { color: RED }, z: 4 }, common));
}
function pairPanel(box, xs, ys, pairs, fit) {
  const ax = addFrame(box, xs, ys);
  const common = { xAxisIndex: ax.xi, yAxisIndex: ax.yi, silent: true, animation: false };
  series.push(Object.assign({ type: 'scatter', data: pairs, symbol: 'circle', symbolSize: 10,
    itemStyle: { color: 'rgba(0,0,0,0)', borderColor: RING, borderWidth: 1.3 }, z: 2 }, common));
  const k = fit[0], b = fit[1];
  series.push(Object.assign({ type: 'line', data: [[fit[2], b + k * fit[2]], [fit[3], b + k * fit[3]]], symbol: 'none',
    lineStyle: { color: FIT, width: 5.5, cap: 'butt' }, z: 4 }, common));
}

// time axes
const autumnX = { min: -7.4, max: 62.2, major: autumnTickDays, minor: steps(-4, 60, 4),
  format: dateFormatter(autumnTickDays, autumnTickLabels), margin: 18 };
const autumnXe = Object.assign({}, autumnX, { min: -7.38, max: 62.28 });
const winterX = { min: -2.34, max: 26.51, major: winterTickDays, minor: steps(-2, 26, 1),
  format: dateFormatter(winterTickDays, winterTickLabels), margin: 18 };

// (a) acetaldehyde
timePanel({ left: 72, top: 15, width: 764, height: 223 }, autumnX,
  { min: 0, max: 12.4, major: acetYTicks, minor: steps(0, 12, 0.5), format: fixed(0), margin: 9 },
  autumnStartDay, autumnStepDay,
  { no: acetNO, h3o: acetH3O, burstsNO: acetBurstsNO, burstsH3O: acetBurstsH3O, spotsNO: acetSpotsNO, spotsH3O: acetSpotsH3O });
// (c) ethanol
timePanel({ left: 72, top: 328, width: 764, height: 219 }, autumnX,
  { min: 0, max: 40.6, major: ethYTicks, minor: steps(0, 40, 2), format: fixed(0), margin: 9 },
  autumnStartDay, autumnStepDay,
  { no: ethNO, h3o: ethH3O, burstsNO: ethBurstsNO, burstsH3O: ethBurstsH3O, spotsNO: ethSpotsNO, spotsH3O: ethSpotsH3O });
// (e) pentanone
timePanel({ left: 81, top: 640, width: 764, height: 220 }, autumnXe,
  { min: 0, max: 0.431, major: pentYTicks, minor: steps(0, 0.42, 0.02), format: fixed(1), margin: 9 },
  autumnStartDay, autumnStepDay,
  { no: pentNO, h3o: pentH3O, burstsNO: pentBurstsNO, burstsH3O: pentBurstsH3O, spotsNO: pentSpotsNO, spotsH3O: pentSpotsH3O });
// (g) acrolein
timePanel({ left: 81, top: 947, width: 764, height: 219 }, winterX,
  { min: 0, max: 3.04, major: acroYTicks, minor: steps(0, 3, 0.1), format: fixed(1), margin: 9 },
  winterStartDay, winterStepDay,
  { no: acroNO, h3o: acroH3O, burstsNO: acroBurstsNO, burstsH3O: acroBurstsH3O, spotsNO: acroSpotsNO, spotsH3O: acroSpotsH3O });

// (b) (d) (f) (h) correlation panels
pairPanel({ left: 941, top: 15, width: 223, height: 232 },
  { min: -0.23, max: 10.1, major: acetPairTicks, minor: steps(0, 10, 0.5), format: fixed(0), margin: 12 },
  { min: -0.4, max: 10.32, major: acetPairTicks, minor: steps(0, 10, 0.5), format: fixed(0), margin: 6 },
  acetPairs, acetFit);
pairPanel({ left: 940, top: 330, width: 232, height: 228 },
  { min: -1.25, max: 56.75, major: ethPairXTicks, minor: steps(0, 56, 2), format: fixed(0), margin: 12 },
  { min: -1.49, max: 36.16, major: ethPairYTicks, minor: steps(0, 36, 1), format: fixed(0), margin: 6 },
  ethPairs, ethFit);
pairPanel({ left: 941, top: 640, width: 225, height: 230 },
  { min: -0.0104, max: 0.458, major: pentPairTicks, minor: steps(0, 0.44, 0.02), format: fixed(1), margin: 12 },
  { min: -0.0207, max: 0.456, major: pentPairTicks, minor: steps(0, 0.44, 0.02), format: fixed(1), margin: 6 },
  pentPairs, pentFit);
pairPanel({ left: 940, top: 945, width: 224, height: 235 },
  { min: -0.056, max: 2.02, major: acroPairTicks, minor: steps(0, 2, 0.1), format: fixed(1), margin: 12 },
  { min: -0.101, max: 2.065, major: acroPairTicks, minor: steps(0, 2, 0.1), format: fixed(1), margin: 6 },
  acroPairs, acroFit);

// legends of the time-series panels
legendBox(93, 37, 688, 74, 'Acetaldehyde:', 98, 217, 243, 462, 485, 'PTR-ToF-MS (H{sub|3}O{sup|+}mode)');
legendBox(97, 345, 652, 381, 'Ethanol:', 106, 192, 210, 417, 450, 'PTR-ToF-MS (H{sub|3}O{sup|+} mode)');
legendBox(108, 660, 677, 697, 'Pentanone:', 113, 209, 235, 448, 472, 'PTR-ToF-MS (H{sub|3}O{sup|+} mode)');
legendBox(100, 962, 650, 999, 'Acrolein', 105, 192, 210, 417, 447, 'PTR-ToF-MS (H{sub|3}O{sup|+} mode)');

// panel letters
text(805, 47, '(a)', 21, { align: 'center' });
text(810, 357, '(c)', 21, { align: 'center' });
text(815, 667, '(e)', 21, { align: 'center' });
text(815, 967, '(g)', 21, { align: 'center' });
text(1141, 43, '(b)', 21, { align: 'center' });
text(1138, 358, '(d)', 21, { align: 'center' });
text(1141, 667, '(f)', 21, { align: 'center' });
text(1140, 968, '(h)', 21, { align: 'center' });

// axis titles of the time-series panels
const ROT = Math.PI / 2;
[116, 428, 746, 1050].forEach(function (cy) { text(23, cy, 'Concentration (ppb)', 21, { align: 'center', rotation: ROT }); });
[[456, 289], [456, 598], [465, 907], [462, 1218]].forEach(function (p) { text(p[0], p[1], 'Local Time (UTC+8)', 18, { align: 'center' }); });

// axis titles of the correlation panels
[126, 440, 750, 1060].forEach(function (cy) { text(888, cy, 'NO{sup|+} PTR-ToF-MS (ppb)', 19, { align: 'center', rotation: ROT }); });
[[1053, 293], [1052, 610], [1052, 920], [1053, 1228]].forEach(function (p) { text(p[0], p[1], 'H{sub|3}O{sup|+} PTR-ToF-MS (ppb)', 18, { align: 'center' }); });

// compound name and fit statistics
const fitNotes = [
  [963, [42, 62, 81], ['Acetaldehyde', 'k=0.71', 'r=0.81']],
  [966, [348, 368, 389], ['Ethanol', 'k=0.51', 'r=0.83']],
  [962, [657, 680, 701], ['Pentanone', 'k=0.71', 'r=0.94']],
  [963, [974, 995, 1015], ['Acrolein', 'k=0.83', 'r=0.91']]
];
fitNotes.forEach(function (n) { n[2].forEach(function (s, i) { text(n[0], n[1][i], s, 18); }); });

const chart = echarts.init(document.getElementById('chart'), null, { renderer: 'canvas' });
chart.setOption({
  backgroundColor: '#ffffff',
  animation: false,
  textStyle: { fontFamily: FONT },
  grid: grids,
  xAxis: xAxis,
  yAxis: yAxis,
  series: series,
  graphic: graphic
});
</script>
</body>
</html>
